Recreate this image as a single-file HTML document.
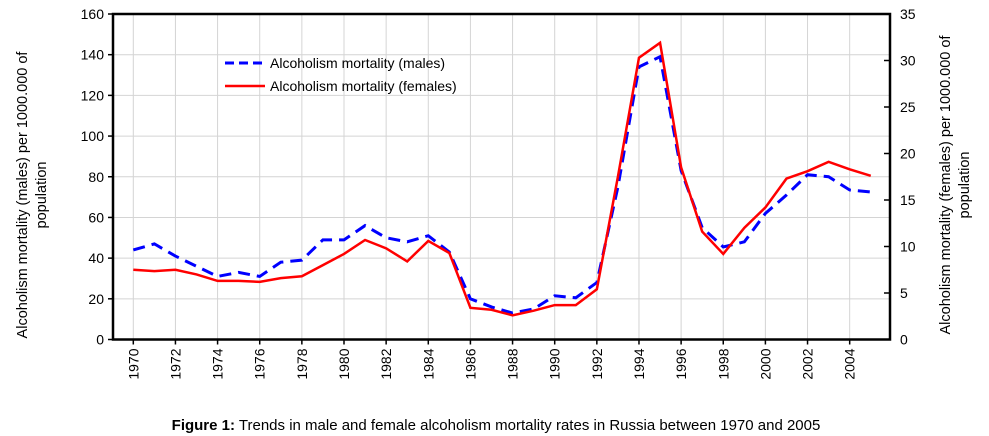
<!DOCTYPE html>
<html><head><meta charset="utf-8"><style>
body{margin:0;background:#fff;width:989px;height:436px;overflow:hidden;font-family:"Liberation Sans",Arial,sans-serif}
</style></head><body>
<svg id="c" width="989" height="436" style="position:absolute;left:0;top:0">
</svg>
<script>
const years=[1970,1971,1972,1973,1974,1975,1976,1977,1978,1979,1980,1981,1982,1983,1984,1985,1986,1987,1988,1989,1990,1991,1992,1993,1994,1995,1996,1997,1998,1999,2000,2001,2002,2003,2004,2005];
const males=[44,47,41,36,31,33,31,38,39,49,49,56,50,48,51,43,20,16,13,15,21.5,20.5,28,75,134,139,83,55,45.5,48,62,71,81,80,73.5,72.5];
const females=[7.5,7.35,7.5,7.0,6.3,6.3,6.2,6.6,6.8,8.0,9.2,10.7,9.8,8.4,10.6,9.3,3.4,3.2,2.6,3.1,3.7,3.7,5.4,17.5,30.3,31.9,18.5,11.6,9.2,12,14.2,17.3,18.1,19.1,18.3,17.6];
const leftTicks=[0,20,40,60,80,100,120,140,160];
const rightTicks=[0,5,10,15,20,25,30,35];
const yearLabels=[1970,1972,1974,1976,1978,1980,1982,1984,1986,1988,1990,1992,1994,1996,1998,2000,2002,2004];

const L=113,R=890,T=14,B=339.5;
const x=y=>133.3+(y-1970)*21.07;
const yl=v=>B-(v/160)*(B-T);
const yr=v=>B-(v/35)*(B-T);
const svg=document.getElementById('c');
const NS='http://www.w3.org/2000/svg';
function mk(tag,attrs,parent){const e=document.createElementNS(NS,tag);for(const k in attrs)e.setAttribute(k,attrs[k]);(parent||svg).appendChild(e);return e;}

leftTicks.forEach(v=>{const g=mk('line',{x1:L,x2:R,y1:yl(v),y2:yl(v),stroke:'#d4d4d4','stroke-width':1});

});
yearLabels.forEach(v=>{const g=mk('line',{x1:x(v),x2:x(v),y1:T,y2:B,stroke:'#d4d4d4','stroke-width':1});

});

const fr=mk('rect',{x:L,y:T,width:R-L,height:B-T,fill:'none',stroke:'#000','stroke-width':2.5});



leftTicks.forEach(v=>{mk('line',{x1:L-5,x2:L,y1:yl(v),y2:yl(v),stroke:'#000','stroke-width':1.5});
const t=mk('text',{x:L-9,y:yl(v)+5,'text-anchor':'end','font-size':14});t.textContent=v;

});
rightTicks.forEach(v=>{mk('line',{x1:R-6,x2:R,y1:yr(v),y2:yr(v),stroke:'#000','stroke-width':1.5});
const t=mk('text',{x:R+10,y:yr(v)+5,'text-anchor':'start','font-size':14});t.textContent=v;

});
yearLabels.forEach(v=>{mk('line',{x1:x(v),x2:x(v),y1:B,y2:B+5,stroke:'#000','stroke-width':1.5});
const t=mk('text',{x:0,y:0,'text-anchor':'end','font-size':14,transform:`translate(${x(v)+5},${B+9}) rotate(-90)`});t.textContent=v;

});

const mp=years.map((y,i)=>x(y)+','+yl(males[i])).join(' ');
const ml=mk('polyline',{points:mp,fill:'none',stroke:'#0000ff','stroke-width':3,'stroke-dasharray':'12,7'});


const fp=years.map((y,i)=>x(y)+','+yr(females[i])).join(' ');
const fl=mk('polyline',{points:fp,fill:'none',stroke:'#ff0000','stroke-width':2.5});



const l1=mk('line',{x1:225,x2:265,y1:63,y2:63,stroke:'#0000ff','stroke-width':3,'stroke-dasharray':'9,5'});


const t1=mk('text',{x:270,y:68,'font-size':14});t1.textContent='Alcoholism mortality (males)';


const l2=mk('line',{x1:225,x2:265,y1:86,y2:86,stroke:'#ff0000','stroke-width':2.5});


const t2=mk('text',{x:270,y:91,'font-size':14});t2.textContent='Alcoholism mortality (females)';



const a1=mk('text',{'text-anchor':'middle','font-size':14.5,transform:'translate(27,195) rotate(-90)'});
a1.innerHTML='<tspan x="0" dy="0">Alcoholism mortality (males) per 1000.000 of</tspan><tspan x="0" dy="19">population</tspan>';


const a2=mk('text',{'text-anchor':'middle','font-size':14.5,transform:'translate(950,185) rotate(-90)'});
a2.innerHTML='<tspan x="0" dy="0">Alcoholism mortality (females) per 1000.000 of</tspan><tspan x="0" dy="19">population</tspan>';



const cap=mk('text',{x:496,y:430,'text-anchor':'middle','font-size':15});
cap.innerHTML='<tspan font-weight="bold">Figure 1:</tspan> Trends in male and female alcoholism mortality rates in Russia between 1970 and 2005';


</script>
</body></html>
